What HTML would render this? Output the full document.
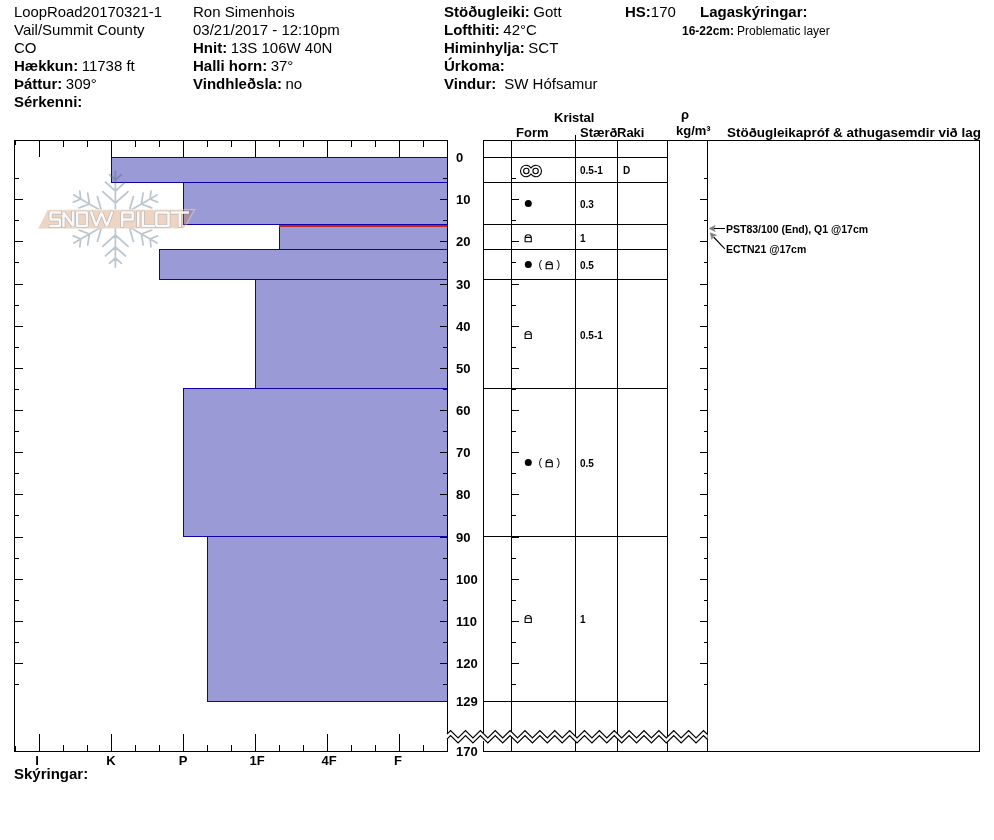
<!DOCTYPE html>
<html><head><meta charset="utf-8"><style>
html,body{margin:0;padding:0;background:#fff;}
svg{display:block;}
#wrap{will-change:transform;opacity:0.999;}
text{font-family:"Liberation Sans",sans-serif;}
</style></head><body><div id="wrap">
<svg width="994" height="840" viewBox="0 0 994 840" shape-rendering="crispEdges">
<rect width="994" height="840" fill="#fff"/>
<text x="14" y="17" font-size="15" textLength="148" lengthAdjust="spacingAndGlyphs" fill="#000">LoopRoad20170321-1</text>
<text x="14" y="35" font-size="15" fill="#000">Vail/Summit County</text>
<text x="14" y="53" font-size="15" fill="#000">CO</text>
<text x="14" y="71" font-size="15"><tspan font-weight="bold">Hækkun:</tspan><tspan dx="3.5">11738 ft</tspan></text>
<text x="14" y="89" font-size="15"><tspan font-weight="bold">Þáttur:</tspan><tspan dx="3.5">309°</tspan></text>
<text x="14" y="107" font-size="15" font-weight="bold" fill="#000">Sérkenni:</text>
<text x="193" y="17" font-size="15" fill="#000">Ron Simenhois</text>
<text x="193" y="35" font-size="15" fill="#000">03/21/2017 - 12:10pm</text>
<text x="193" y="53" font-size="15"><tspan font-weight="bold">Hnit:</tspan><tspan dx="3.5">13S 106W 40N</tspan></text>
<text x="193" y="71" font-size="15"><tspan font-weight="bold">Halli horn:</tspan><tspan dx="3.5">37°</tspan></text>
<text x="193" y="89" font-size="15"><tspan font-weight="bold">Vindhleðsla:</tspan><tspan dx="3.5">no</tspan></text>
<text x="444" y="17" font-size="15"><tspan font-weight="bold">Stöðugleiki:</tspan><tspan dx="3.5">Gott</tspan></text>
<text x="444" y="35" font-size="15"><tspan font-weight="bold">Lofthiti:</tspan><tspan dx="3.5">42°C</tspan></text>
<text x="444" y="53" font-size="15"><tspan font-weight="bold">Himinhylja:</tspan><tspan dx="3.5">SCT</tspan></text>
<text x="444" y="71" font-size="15" font-weight="bold" fill="#000">Úrkoma:</text>
<text x="444" y="89" font-size="15"><tspan font-weight="bold">Vindur:</tspan><tspan dx="8">SW Hófsamur</tspan></text>
<text x="625" y="17" font-size="15"><tspan font-weight="bold">HS:</tspan><tspan dx="0">170</tspan></text>
<text x="700" y="17" font-size="15" font-weight="bold" fill="#000">Lagaskýringar:</text>
<text x="682" y="35" font-size="12"><tspan font-weight="bold">16-22cm:</tspan><tspan dx="3">Problematic layer</tspan></text>
<rect x="111" y="157" width="336" height="25" fill="#9a9ad6"/>
<rect x="183" y="182" width="264" height="42" fill="#9a9ad6"/>
<rect x="279" y="224" width="168" height="25" fill="#9a9ad6"/>
<rect x="159" y="249" width="288" height="30" fill="#9a9ad6"/>
<rect x="255" y="279" width="192" height="109" fill="#9a9ad6"/>
<rect x="183" y="388" width="264" height="148" fill="#9a9ad6"/>
<rect x="207" y="536" width="240" height="165" fill="#9a9ad6"/>
<path d="M111 157.5H447" stroke="#1000a8" stroke-width="1"/>
<path d="M111 182.5H447" stroke="#1000a8" stroke-width="1"/>
<path d="M111.5 157V183" stroke="#1000a8" stroke-width="1"/>
<path d="M183 182.5H447" stroke="#1000a8" stroke-width="1"/>
<path d="M183 224.5H447" stroke="#1000a8" stroke-width="1"/>
<path d="M183.5 182V225" stroke="#1000a8" stroke-width="1"/>
<path d="M279 224.5H447" stroke="#1000a8" stroke-width="1"/>
<path d="M279 249.5H447" stroke="#1000a8" stroke-width="1"/>
<path d="M279.5 224V250" stroke="#1000a8" stroke-width="1"/>
<path d="M159 249.5H447" stroke="#1000a8" stroke-width="1"/>
<path d="M159 279.5H447" stroke="#1000a8" stroke-width="1"/>
<path d="M159.5 249V280" stroke="#1000a8" stroke-width="1"/>
<path d="M255 279.5H447" stroke="#1000a8" stroke-width="1"/>
<path d="M255 388.5H447" stroke="#1000a8" stroke-width="1"/>
<path d="M255.5 279V389" stroke="#1000a8" stroke-width="1"/>
<path d="M183 388.5H447" stroke="#1000a8" stroke-width="1"/>
<path d="M183 536.5H447" stroke="#1000a8" stroke-width="1"/>
<path d="M183.5 388V537" stroke="#1000a8" stroke-width="1"/>
<path d="M207 536.5H447" stroke="#1000a8" stroke-width="1"/>
<path d="M207 701.5H447" stroke="#1000a8" stroke-width="1"/>
<path d="M207.5 536V702" stroke="#1000a8" stroke-width="1"/>
<rect x="279" y="225" width="168" height="2" fill="#c42418"/>
<path d="M14 140.5H448" stroke="#000" stroke-width="1"/>
<path d="M14.5 140V752" stroke="#000" stroke-width="1"/>
<path d="M447.5 140V735" stroke="#000" stroke-width="1"/>
<path d="M447.5 739V752" stroke="#000" stroke-width="1"/>
<path d="M14 751.5H448" stroke="#000" stroke-width="1"/>
<rect x="14" y="140" width="2" height="5" fill="#000"/>
<rect x="14" y="746" width="2" height="5" fill="#000"/>
<path d="M39.5 141V157" stroke="#000" stroke-width="1"/>
<path d="M39.5 734V751" stroke="#000" stroke-width="1"/>
<path d="M63.5 141V147" stroke="#000" stroke-width="1"/>
<path d="M63.5 745V751" stroke="#000" stroke-width="1"/>
<path d="M87.5 141V147" stroke="#000" stroke-width="1"/>
<path d="M87.5 745V751" stroke="#000" stroke-width="1"/>
<path d="M111.5 141V157" stroke="#000" stroke-width="1"/>
<path d="M111.5 734V751" stroke="#000" stroke-width="1"/>
<path d="M135.5 141V147" stroke="#000" stroke-width="1"/>
<path d="M135.5 745V751" stroke="#000" stroke-width="1"/>
<path d="M159.5 141V147" stroke="#000" stroke-width="1"/>
<path d="M159.5 745V751" stroke="#000" stroke-width="1"/>
<path d="M183.5 141V157" stroke="#000" stroke-width="1"/>
<path d="M183.5 734V751" stroke="#000" stroke-width="1"/>
<path d="M207.5 141V147" stroke="#000" stroke-width="1"/>
<path d="M207.5 745V751" stroke="#000" stroke-width="1"/>
<path d="M231.5 141V147" stroke="#000" stroke-width="1"/>
<path d="M231.5 745V751" stroke="#000" stroke-width="1"/>
<path d="M255.5 141V157" stroke="#000" stroke-width="1"/>
<path d="M255.5 734V751" stroke="#000" stroke-width="1"/>
<path d="M279.5 141V147" stroke="#000" stroke-width="1"/>
<path d="M279.5 745V751" stroke="#000" stroke-width="1"/>
<path d="M303.5 141V147" stroke="#000" stroke-width="1"/>
<path d="M303.5 745V751" stroke="#000" stroke-width="1"/>
<path d="M327.5 141V157" stroke="#000" stroke-width="1"/>
<path d="M327.5 734V751" stroke="#000" stroke-width="1"/>
<path d="M351.5 141V147" stroke="#000" stroke-width="1"/>
<path d="M351.5 745V751" stroke="#000" stroke-width="1"/>
<path d="M375.5 141V147" stroke="#000" stroke-width="1"/>
<path d="M375.5 745V751" stroke="#000" stroke-width="1"/>
<path d="M399.5 141V157" stroke="#000" stroke-width="1"/>
<path d="M399.5 734V751" stroke="#000" stroke-width="1"/>
<path d="M423.5 141V147" stroke="#000" stroke-width="1"/>
<path d="M423.5 745V751" stroke="#000" stroke-width="1"/>
<path d="M15 178.5H19" stroke="#000"/>
<path d="M443 178.5H447" stroke="#000"/>
<path d="M512 178.5H516" stroke="#000"/>
<path d="M704 178.5H707" stroke="#000"/>
<path d="M15 199.5H23" stroke="#000"/>
<path d="M440 199.5H447" stroke="#000"/>
<path d="M512 199.5H519" stroke="#000"/>
<path d="M700 199.5H707" stroke="#000"/>
<path d="M15 220.5H19" stroke="#000"/>
<path d="M443 220.5H447" stroke="#000"/>
<path d="M512 220.5H516" stroke="#000"/>
<path d="M704 220.5H707" stroke="#000"/>
<path d="M15 241.5H23" stroke="#000"/>
<path d="M440 241.5H447" stroke="#000"/>
<path d="M512 241.5H519" stroke="#000"/>
<path d="M700 241.5H707" stroke="#000"/>
<path d="M15 262.5H19" stroke="#000"/>
<path d="M443 262.5H447" stroke="#000"/>
<path d="M512 262.5H516" stroke="#000"/>
<path d="M704 262.5H707" stroke="#000"/>
<path d="M15 284.5H23" stroke="#000"/>
<path d="M440 284.5H447" stroke="#000"/>
<path d="M512 284.5H519" stroke="#000"/>
<path d="M700 284.5H707" stroke="#000"/>
<path d="M15 305.5H19" stroke="#000"/>
<path d="M443 305.5H447" stroke="#000"/>
<path d="M512 305.5H516" stroke="#000"/>
<path d="M704 305.5H707" stroke="#000"/>
<path d="M15 326.5H23" stroke="#000"/>
<path d="M440 326.5H447" stroke="#000"/>
<path d="M512 326.5H519" stroke="#000"/>
<path d="M700 326.5H707" stroke="#000"/>
<path d="M15 347.5H19" stroke="#000"/>
<path d="M443 347.5H447" stroke="#000"/>
<path d="M512 347.5H516" stroke="#000"/>
<path d="M704 347.5H707" stroke="#000"/>
<path d="M15 368.5H23" stroke="#000"/>
<path d="M440 368.5H447" stroke="#000"/>
<path d="M512 368.5H519" stroke="#000"/>
<path d="M700 368.5H707" stroke="#000"/>
<path d="M15 389.5H19" stroke="#000"/>
<path d="M443 389.5H447" stroke="#000"/>
<path d="M512 389.5H516" stroke="#000"/>
<path d="M704 389.5H707" stroke="#000"/>
<path d="M15 410.5H23" stroke="#000"/>
<path d="M440 410.5H447" stroke="#000"/>
<path d="M512 410.5H519" stroke="#000"/>
<path d="M700 410.5H707" stroke="#000"/>
<path d="M15 431.5H19" stroke="#000"/>
<path d="M443 431.5H447" stroke="#000"/>
<path d="M512 431.5H516" stroke="#000"/>
<path d="M704 431.5H707" stroke="#000"/>
<path d="M15 452.5H23" stroke="#000"/>
<path d="M440 452.5H447" stroke="#000"/>
<path d="M512 452.5H519" stroke="#000"/>
<path d="M700 452.5H707" stroke="#000"/>
<path d="M15 473.5H19" stroke="#000"/>
<path d="M443 473.5H447" stroke="#000"/>
<path d="M512 473.5H516" stroke="#000"/>
<path d="M704 473.5H707" stroke="#000"/>
<path d="M15 494.5H23" stroke="#000"/>
<path d="M440 494.5H447" stroke="#000"/>
<path d="M512 494.5H519" stroke="#000"/>
<path d="M700 494.5H707" stroke="#000"/>
<path d="M15 515.5H19" stroke="#000"/>
<path d="M443 515.5H447" stroke="#000"/>
<path d="M512 515.5H516" stroke="#000"/>
<path d="M704 515.5H707" stroke="#000"/>
<path d="M15 537.5H23" stroke="#000"/>
<path d="M440 537.5H447" stroke="#000"/>
<path d="M512 537.5H519" stroke="#000"/>
<path d="M700 537.5H707" stroke="#000"/>
<path d="M15 558.5H19" stroke="#000"/>
<path d="M443 558.5H447" stroke="#000"/>
<path d="M512 558.5H516" stroke="#000"/>
<path d="M704 558.5H707" stroke="#000"/>
<path d="M15 579.5H23" stroke="#000"/>
<path d="M440 579.5H447" stroke="#000"/>
<path d="M512 579.5H519" stroke="#000"/>
<path d="M700 579.5H707" stroke="#000"/>
<path d="M15 600.5H19" stroke="#000"/>
<path d="M443 600.5H447" stroke="#000"/>
<path d="M512 600.5H516" stroke="#000"/>
<path d="M704 600.5H707" stroke="#000"/>
<path d="M15 621.5H23" stroke="#000"/>
<path d="M440 621.5H447" stroke="#000"/>
<path d="M512 621.5H519" stroke="#000"/>
<path d="M700 621.5H707" stroke="#000"/>
<path d="M15 642.5H19" stroke="#000"/>
<path d="M443 642.5H447" stroke="#000"/>
<path d="M512 642.5H516" stroke="#000"/>
<path d="M704 642.5H707" stroke="#000"/>
<path d="M15 663.5H23" stroke="#000"/>
<path d="M440 663.5H447" stroke="#000"/>
<path d="M512 663.5H519" stroke="#000"/>
<path d="M700 663.5H707" stroke="#000"/>
<path d="M15 684.5H19" stroke="#000"/>
<path d="M443 684.5H447" stroke="#000"/>
<path d="M512 684.5H516" stroke="#000"/>
<path d="M704 684.5H707" stroke="#000"/>
<text x="456" y="162" font-size="13" font-weight="bold" fill="#000">0</text>
<text x="456" y="204" font-size="13" font-weight="bold" fill="#000">10</text>
<text x="456" y="246" font-size="13" font-weight="bold" fill="#000">20</text>
<text x="456" y="289" font-size="13" font-weight="bold" fill="#000">30</text>
<text x="456" y="331" font-size="13" font-weight="bold" fill="#000">40</text>
<text x="456" y="373" font-size="13" font-weight="bold" fill="#000">50</text>
<text x="456" y="415" font-size="13" font-weight="bold" fill="#000">60</text>
<text x="456" y="457" font-size="13" font-weight="bold" fill="#000">70</text>
<text x="456" y="499" font-size="13" font-weight="bold" fill="#000">80</text>
<text x="456" y="542" font-size="13" font-weight="bold" fill="#000">90</text>
<text x="456" y="584" font-size="13" font-weight="bold" fill="#000">100</text>
<text x="456" y="626" font-size="13" font-weight="bold" fill="#000">110</text>
<text x="456" y="668" font-size="13" font-weight="bold" fill="#000">120</text>
<text x="456" y="706" font-size="13" font-weight="bold" fill="#000">129</text>
<text x="456" y="756" font-size="13" font-weight="bold" fill="#000">170</text>
<text x="37" y="765" font-size="13" font-weight="bold" text-anchor="middle" fill="#000">I</text>
<text x="111" y="765" font-size="13" font-weight="bold" text-anchor="middle" fill="#000">K</text>
<text x="183" y="765" font-size="13" font-weight="bold" text-anchor="middle" fill="#000">P</text>
<text x="257" y="765" font-size="13" font-weight="bold" text-anchor="middle" fill="#000">1F</text>
<text x="329" y="765" font-size="13" font-weight="bold" text-anchor="middle" fill="#000">4F</text>
<text x="398" y="765" font-size="13" font-weight="bold" text-anchor="middle" fill="#000">F</text>
<text x="14" y="779" font-size="15" font-weight="bold" fill="#000">Skýringar:</text>
<path d="M483 140.5H980" stroke="#000" stroke-width="1"/>
<path d="M483.5 140V734" stroke="#000" stroke-width="1"/>
<path d="M483.5 741V752" stroke="#000" stroke-width="1"/>
<path d="M511.5 140V752" stroke="#000" stroke-width="1"/>
<path d="M575.5 135V752" stroke="#000" stroke-width="1"/>
<path d="M617.5 140V752" stroke="#000" stroke-width="1"/>
<path d="M667.5 140V752" stroke="#000" stroke-width="1"/>
<path d="M707.5 140V752" stroke="#000" stroke-width="1"/>
<path d="M979.5 140V752" stroke="#000" stroke-width="1"/>
<path d="M483 751.5H980" stroke="#000" stroke-width="1"/>
<path d="M483 157.5H668" stroke="#000" stroke-width="1"/>
<path d="M483 182.5H668" stroke="#000" stroke-width="1"/>
<path d="M483 224.5H668" stroke="#000" stroke-width="1"/>
<path d="M483 249.5H668" stroke="#000" stroke-width="1"/>
<path d="M483 279.5H668" stroke="#000" stroke-width="1"/>
<path d="M483 388.5H668" stroke="#000" stroke-width="1"/>
<path d="M483 536.5H668" stroke="#000" stroke-width="1"/>
<path d="M483 701.5H668" stroke="#000" stroke-width="1"/>
<text x="554" y="122" font-size="13" font-weight="bold" fill="#000">Kristal</text>
<text x="516" y="137" font-size="13" font-weight="bold" fill="#000">Form</text>
<text x="580" y="137" font-size="13" font-weight="bold" fill="#000">Stærð</text>
<text x="617" y="137" font-size="13" font-weight="bold" fill="#000">Raki</text>
<text x="681" y="119" font-size="13" font-weight="bold" fill="#000">ρ</text>
<text x="676" y="135" font-size="13" font-weight="bold" fill="#000">kg/m³</text>
<text x="727" y="137" font-size="13.5" font-weight="bold" textLength="254" lengthAdjust="spacingAndGlyphs" fill="#000">Stöðugleikapróf &amp; athugasemdir við lag</text>
<g shape-rendering="auto" fill="none" stroke="#000" stroke-width="1.1"><path d="M531.00 167.93A5.7 5.7 0 1 0 531.00 174.07A5.7 5.7 0 1 0 531.00 167.93Z"/>
<circle cx="526.3000000000001" cy="171" r="2.7"/><circle cx="535.5999999999999" cy="171" r="2.7"/></g>
<text x="580" y="174" font-size="10" font-weight="bold" fill="#000">0.5-1</text>
<text x="623" y="174" font-size="10" font-weight="bold" fill="#000">D</text>
<circle cx="528.3" cy="203.5" r="3.5" fill="#000" shape-rendering="auto"/>
<text x="580" y="208" font-size="10" font-weight="bold" fill="#000">0.3</text>
<path d="M525.1 241.7V237.8A3.1 3.1 0 0 1 531.3 237.8V241.7ZM525.1 237.4H531.3" fill="none" stroke="#000" stroke-width="1.1" shape-rendering="auto"/>
<text x="580" y="242" font-size="10" font-weight="bold" fill="#000">1</text>
<circle cx="528.3" cy="264.5" r="3.5" fill="#000" shape-rendering="auto"/>
<text x="538.5" y="268" font-size="11" fill="#000">(</text>
<path d="M546.1 268.7V264.8A3.1 3.1 0 0 1 552.3 264.8V268.7ZM546.1 264.4H552.3" fill="none" stroke="#000" stroke-width="1.1" shape-rendering="auto"/>
<text x="556.5" y="268" font-size="11" fill="#000">)</text>
<text x="580" y="269" font-size="10" font-weight="bold" fill="#000">0.5</text>
<path d="M525.1 338.5V334.6A3.1 3.1 0 0 1 531.3 334.6V338.5ZM525.1 334.2H531.3" fill="none" stroke="#000" stroke-width="1.1" shape-rendering="auto"/>
<text x="580" y="339" font-size="10" font-weight="bold" fill="#000">0.5-1</text>
<circle cx="528.3" cy="462.6" r="3.5" fill="#000" shape-rendering="auto"/>
<text x="538.5" y="466" font-size="11" fill="#000">(</text>
<path d="M546.1 466.7V462.8A3.1 3.1 0 0 1 552.3 462.8V466.7ZM546.1 462.4H552.3" fill="none" stroke="#000" stroke-width="1.1" shape-rendering="auto"/>
<text x="556.5" y="466" font-size="11" fill="#000">)</text>
<text x="580" y="467" font-size="10" font-weight="bold" fill="#000">0.5</text>
<path d="M525.1 622.5V618.5999999999999A3.1 3.1 0 0 1 531.3 618.5999999999999V622.5ZM525.1 618.1999999999999H531.3" fill="none" stroke="#000" stroke-width="1.1" shape-rendering="auto"/>
<text x="580" y="623" font-size="10" font-weight="bold" fill="#000">1</text>
<path d="M713.5 228.5H725" stroke="#000"/>
<path d="M709.20 228.50 L715.20 231.60 L713.60 228.50 L715.20 225.40Z" fill="#7a7a7a" stroke="#7a7a7a" stroke-width="0.6" shape-rendering="auto"/>
<path d="M724.8 248.8L713.6 237" stroke="#000" stroke-width="1.1" shape-rendering="auto"/>
<path d="M710.20 232.80 L711.88 239.34 L713.13 236.08 L716.51 235.21Z" fill="#7a7a7a" stroke="#7a7a7a" stroke-width="0.6" shape-rendering="auto"/>
<text x="726" y="233" font-size="10.5" font-weight="bold" fill="#000">PST83/100 (End), Q1 @17cm</text>
<text x="726" y="253" font-size="10.5" font-weight="bold" fill="#000">ECTN21 @17cm</text>
<path d="M447.00 734.16 L450.62 730.50 L458.06 738.00 L465.50 730.50 L472.94 738.00 L480.38 730.50 L487.81 738.00 L495.25 730.50 L502.69 738.00 L510.12 730.50 L517.56 738.00 L525.00 730.50 L532.44 738.00 L539.88 730.50 L547.31 738.00 L554.75 730.50 L562.19 738.00 L569.62 730.50 L577.06 738.00 L584.50 730.50 L591.94 738.00 L599.38 730.50 L606.81 738.00 L614.25 730.50 L621.69 738.00 L629.12 730.50 L636.56 738.00 L644.00 730.50 L651.44 738.00 L658.88 730.50 L666.31 738.00 L673.75 730.50 L681.19 738.00 L688.62 730.50 L696.06 738.00 L703.50 730.50 L707.50 734.53 L707.50 739.53 L703.50 735.50 L696.06 743.00 L688.62 735.50 L681.19 743.00 L673.75 735.50 L666.31 743.00 L658.88 735.50 L651.44 743.00 L644.00 735.50 L636.56 743.00 L629.12 735.50 L621.69 743.00 L614.25 735.50 L606.81 743.00 L599.38 735.50 L591.94 743.00 L584.50 735.50 L577.06 743.00 L569.62 735.50 L562.19 743.00 L554.75 735.50 L547.31 743.00 L539.88 735.50 L532.44 743.00 L525.00 735.50 L517.56 743.00 L510.12 735.50 L502.69 743.00 L495.25 735.50 L487.81 743.00 L480.38 735.50 L472.94 743.00 L465.50 735.50 L458.06 743.00 L450.62 735.50 L447.00 739.16 Z" fill="#fff" stroke="none" shape-rendering="auto"/>
<path d="M447.00 734.16 L450.62 730.50 L458.06 738.00 L465.50 730.50 L472.94 738.00 L480.38 730.50 L487.81 738.00 L495.25 730.50 L502.69 738.00 L510.12 730.50 L517.56 738.00 L525.00 730.50 L532.44 738.00 L539.88 730.50 L547.31 738.00 L554.75 730.50 L562.19 738.00 L569.62 730.50 L577.06 738.00 L584.50 730.50 L591.94 738.00 L599.38 730.50 L606.81 738.00 L614.25 730.50 L621.69 738.00 L629.12 730.50 L636.56 738.00 L644.00 730.50 L651.44 738.00 L658.88 730.50 L666.31 738.00 L673.75 730.50 L681.19 738.00 L688.62 730.50 L696.06 738.00 L703.50 730.50 L707.50 734.53" fill="none" stroke="#000" stroke-width="1.15" shape-rendering="auto"/>
<path d="M447.00 739.16 L450.62 735.50 L458.06 743.00 L465.50 735.50 L472.94 743.00 L480.38 735.50 L487.81 743.00 L495.25 735.50 L502.69 743.00 L510.12 735.50 L517.56 743.00 L525.00 735.50 L532.44 743.00 L539.88 735.50 L547.31 743.00 L554.75 735.50 L562.19 743.00 L569.62 735.50 L577.06 743.00 L584.50 735.50 L591.94 743.00 L599.38 735.50 L606.81 743.00 L614.25 735.50 L621.69 743.00 L629.12 735.50 L636.56 743.00 L644.00 735.50 L651.44 743.00 L658.88 735.50 L666.31 743.00 L673.75 735.50 L681.19 743.00 L688.62 735.50 L696.06 743.00 L703.50 735.50 L707.50 739.53" fill="none" stroke="#000" stroke-width="1.15" shape-rendering="auto"/>
<g shape-rendering="auto"><clipPath id="cf"><path d="M0 0H994V209.6H0ZM0 228.3H994V840H0Z"/></clipPath><path d="M115.40 219.00L115.40 171.00M115.40 203.00L102.77 191.62M115.40 203.00L128.03 191.62M115.40 191.00L105.44 182.03M115.40 191.00L125.36 182.03M115.40 180.00L109.45 174.65M115.40 180.00L121.35 174.65M115.40 219.00L115.40 267.00M115.40 235.00L128.03 246.38M115.40 235.00L102.77 246.38M115.40 247.00L125.36 255.97M115.40 247.00L105.44 255.97M115.40 258.00L121.35 263.35M115.40 258.00L109.45 263.35M115.40 219.00L156.97 195.00M129.26 211.00L133.39 196.58M129.26 211.00L143.81 214.63M141.38 204.00L143.10 193.14M141.38 204.00L151.65 207.94M150.04 199.00L151.02 191.06M150.04 199.00L157.41 202.13M115.40 219.00L156.97 243.00M129.26 227.00L143.81 223.37M129.26 227.00L133.39 241.42M141.38 234.00L151.65 230.06M141.38 234.00L143.10 244.86M150.04 239.00L157.41 235.87M150.04 239.00L151.02 246.94M115.40 219.00L73.83 243.00M101.54 227.00L97.41 241.42M101.54 227.00L86.99 223.37M89.42 234.00L87.70 244.86M89.42 234.00L79.15 230.06M80.76 239.00L79.78 246.94M80.76 239.00L73.39 235.87M115.40 219.00L73.83 195.00M101.54 211.00L86.99 214.63M101.54 211.00L97.41 196.58M89.42 204.00L79.15 207.94M89.42 204.00L87.70 193.14M80.76 199.00L73.39 202.13M80.76 199.00L79.78 191.06" stroke="rgb(70,100,122)" stroke-opacity="0.37" stroke-width="1.75" fill="none" stroke-linecap="round" clip-path="url(#cf)"/><path d="M47.5 209.8L194.6 209.5L184 228.6L37.8 228.8Z" fill="rgb(200,120,60)" fill-opacity="0.31" stroke="#fff" stroke-opacity="0.35" stroke-width="1.2"/><path d="M59.9 212.6H50.6V219.5H59.9V226.1H50.6M63.5 226.1V212.6L73.2 226.1V212.6M77.2 212.6H86.9V226.1H77.2ZM91.3 212.6L96.2 226.1L101.5 212.6L106.8 226.1L111.8 212.6M122.2 226.1V212.6H132.7V219.5H122.2M138.3 212.6V226.1M142.8 212.6V226.1H153.6M156.4 212.6H168.5V226.1H156.4ZM171.8 212.6H187.7M179.75 212.6V226.1" fill="none" stroke="rgb(60,100,140)" stroke-opacity="0.28" stroke-width="3.8" stroke-linejoin="bevel" stroke-linecap="square"/><path d="M59.9 212.6H50.6V219.5H59.9V226.1H50.6M63.5 226.1V212.6L73.2 226.1V212.6M77.2 212.6H86.9V226.1H77.2ZM91.3 212.6L96.2 226.1L101.5 212.6L106.8 226.1L111.8 212.6M122.2 226.1V212.6H132.7V219.5H122.2M138.3 212.6V226.1M142.8 212.6V226.1H153.6M156.4 212.6H168.5V226.1H156.4ZM171.8 212.6H187.7M179.75 212.6V226.1" fill="none" stroke="#fff" stroke-opacity="0.92" stroke-width="2.5" stroke-linejoin="bevel" stroke-linecap="square"/></g>
</svg></div></body></html>
